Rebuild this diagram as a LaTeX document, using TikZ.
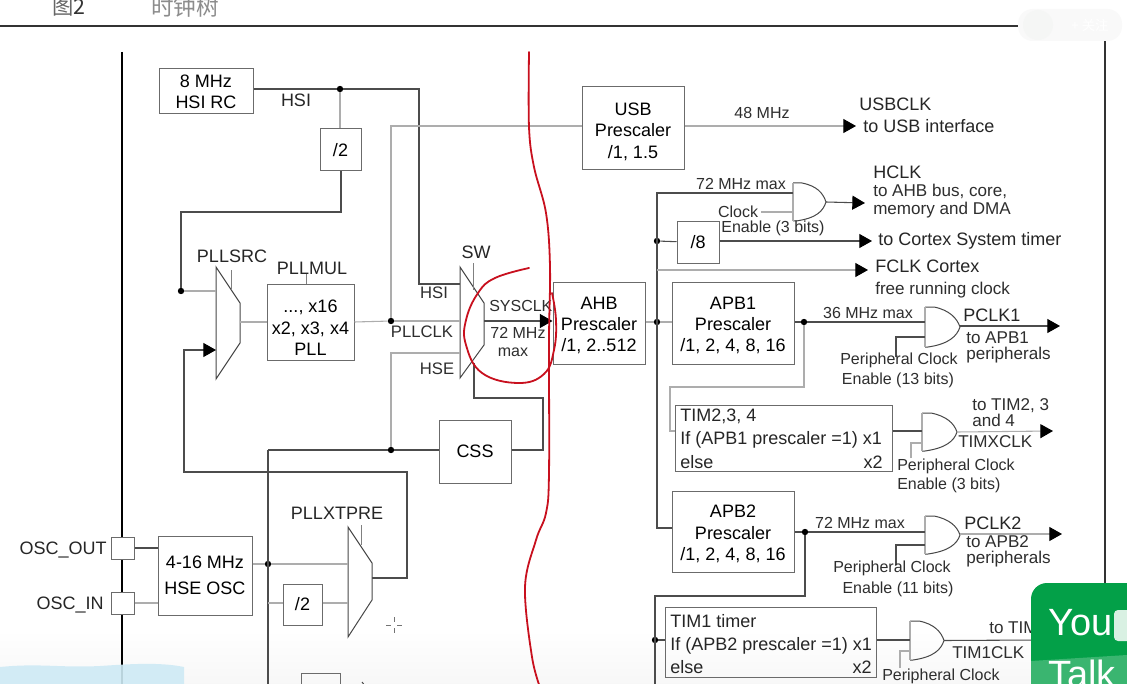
\documentclass[tikz,border=0pt]{standalone}
\usepackage{fontspec}
\setmainfont{Liberation Sans}
\newfontfamily\cjkf{Noto Sans CJK SC}
\usetikzlibrary{arrows.meta,calc}
\definecolor{dk}{gray}{0.3}
\definecolor{lt}{gray}{0.68}
\definecolor{redpen}{RGB}{200,16,30}
\definecolor{wegreen}{RGB}{3,160,72}
\definecolor{bluewash}{RGB}{206,234,245}
\tikzset{
  dkline/.style={draw=dk,line width=0.8pt},
  ltline/.style={draw=lt,line width=0.8pt},
  tip/.style={-{Triangle[length=9.5pt,width=10.5pt,black]}},
  boxn/.style={draw=black!58,line width=0.75pt,inner sep=0pt,align=center,font=\fontsize{13.5}{16}\selectfont},
  lab/.style={inner sep=0pt,text=black!85,font=\fontsize{13.5}{15.75}\selectfont},
  sm/.style={inner sep=0pt,text=black!82,font=\fontsize{12}{14}\selectfont},
  smb/.style={sm,font=\fontsize{12.8}{14}\selectfont},
  lw/.style={anchor=mid west,yshift=-2.2pt},
  le/.style={anchor=mid east,yshift=-2.2pt},
  dotn/.style={circle,fill=black,inner sep=0pt,minimum size=4.8pt},
  outline/.style={draw=black!72,line width=0.75pt},
  tick/.style={draw=black!50,line width=0.7pt},
  redink/.style={draw=redpen,line width=1.35pt,line cap=round,line join=round}
}
\newcommand{\bx}[6][]{\node[boxn,#1,minimum width={(#4-#2)*0.75pt},minimum height={(#5-#3)*0.75pt}] (#6) at ({(#2+#4)/2},{(#3+#5)/2})}
% name, x1, y1, x2, y2
\newcommand{\gate}[5]{%
  \draw[outline] (#2,#3) -- ({#2+9},#3) .. controls ({#2+24},{#3+3}) and ({#4-3},{(#3+#5)/2-9}) .. (#4,{(#3+#5)/2})
     .. controls ({#4-3},{(#3+#5)/2+9}) and ({#2+24},{#5-3}) .. ({#2+3},#5) -- (#2,#5);
  \draw[ltline] (#2,#3) -- (#2,#5);
  \coordinate (#1out) at (#4,{(#3+#5)/2});
  \coordinate (#1in) at (#2,{(#3+#5)/2});
}
\begin{document}
\begin{tikzpicture}[x=0.75pt,y=-0.75pt]
\useasboundingbox (0,0) rectangle (1127,684);
\clip (0,0) rectangle (1127,684);
\fill[white] (0,0) rectangle (1127,684);
\shade[top color=white,bottom color=black!3] (0,630) rectangle (1127,684);
% heading
\node[inner sep=0pt,anchor=mid west,text=black!60,font=\cjkf\fontsize{16}{16}\selectfont] (figno) at (52,11) {图\textcolor{black!80}{2}};
\node[inner sep=0pt,anchor=mid west,text=black!45,font=\cjkf\fontsize{17}{17}\selectfont] (figtitle) at (151,12) {时钟树};
% frame
\draw[line width=0.9pt,draw=black!80] (0,26) -- (1105,26) -- (1105,600);
\fill[black!2.5,rounded corners=11pt] (1018,9) rectangle (1122,41);
\fill[green!8!black!4] (1038,25) circle[radius=15];
\node[inner sep=0pt,text=white,font=\cjkf\fontsize{10}{10}\selectfont] (follow) at (1090,25) {+ 关注};
% chip edge
\draw[black,line width=1.7pt] (122,52) -- (122,684);

% boxes
\bx{159}{69}{253}{114}{hsirc} {8 MHz\\HSI RC};
\bx{320}{129}{361}{171}{divhsi} {/2};
\bx{267}{284}{354}{360}{pll} {\rule{0pt}{18pt}..., x16\\x2, x3, x4\\PLL};
\bx{582}{87}{684}{170}{usb} {\rule{0pt}{14pt}USB\\Prescaler\\/1, 1.5};
\bx{553}{282}{645}{364}{ahb} {\rule{0pt}{13pt}AHB\\Prescaler\\/1, 2..512};
\bx{672}{282}{794}{364}{apbone} {\rule{0pt}{13pt}APB1\\Prescaler\\/1, 2, 4, 8, 16};
\bx{672}{491}{794}{572}{apbtwo} {\rule{0pt}{13pt}APB2\\Prescaler\\/1, 2, 4, 8, 16};
\bx{677}{222}{719}{263}{diveight} {/8};
\bx{439}{420}{511}{483}{css} {CSS};
\bx{158}{536}{252}{615}{hse} {4-16 MHz\\[3.5pt]HSE OSC};
\bx{283}{584}{322}{625}{divhse} {/2};
\bx{111}{537}{134}{559}{oscout} {};
\bx{111}{592}{134}{614}{oscin} {};
\bx{675}{405}{892}{471}{timtwo} {};
\bx{665}{607}{876}{677}{timone} {};
\bx{301}{673}{340}{715}{lowbox} {};
\fill[white] (111.5,537.5) rectangle (133.5,558.5);
\fill[white] (111.5,592.5) rectangle (133.5,613.5);

% muxes
\draw[outline] (216,267) -- (240,303) -- (240,343) -- (216,379) -- cycle;
\draw[outline] (460,267) -- (484,303) -- (484,345) -- (460,378) -- cycle;
\draw[outline] (348,527) -- (372,563) -- (372,600) -- (348,637) -- cycle;
\draw[outline] (362,682) -- (368,690);
\coordinate (srcout) at (240,322);
\coordinate (srchi) at (216,291);
\coordinate (srclo) at (216,350);
\coordinate (swhi) at (460,284);
\coordinate (swmid) at (460,321);
\coordinate (swhe) at (460,353);
\coordinate (swout) at (484,321);
\coordinate (xtout) at (372,578);
\coordinate (xthi) at (348,564);
\coordinate (xtlo) at (348,603);
\draw[tick] (231,270) -- (231,290);
\draw[tick] (473,263) -- (473,290);
\draw[tick] (361,525) -- (361,545);
\draw[tick] (306,274) -- (pll.north -| 306,0);

% gates
\gate{ghclk}{793}{183}{826}{221}
\gate{gapbone}{925}{307}{960}{347}
\gate{gtimtwo}{922}{413}{957}{451}
\gate{gapbtwo}{925}{516}{960}{554}
\gate{gtimone}{910}{621}{944}{660}

% junctions
\node[dotn] (jhsi) at (340,89) {};
\node[dotn] (jpllclk) at (391,321) {};
\node[dotn] (jsrc) at (181,291) {};
\node[dotn] (jcss) at (391,450) {};
\node[dotn] (jhse) at (268,564) {};
\node[dotn] (jahb) at (657,322) {};
\node[dotn] (jdiv) at (657,241) {};
\node[dotn] (japbone) at (804,322) {};
\node[dotn] (japbtwo) at (805,532) {};
\node[dotn] (jtim) at (655,640) {};

% free ends
\coordinate (usbend) at (856,126);
\coordinate (hclkend) at (865,203);
\coordinate (cortexend) at (872,241);
\coordinate (fclkend) at (868,270);
\coordinate (pcloneend) at (1060,326);
\coordinate (timxend) at (1053,431);
\coordinate (pcltwoend) at (1062,534);
\coordinate (timoneend) at (1040,640);
\coordinate (bot) at (268,690);
\coordinate (bottim) at (655,690);

% left half connectors
\draw[dkline] (hsirc.east |- jhsi) -- (jhsi);
\draw[dkline] (jhsi) -- (419,89) -- (419,284) -- (swhi);
\draw[ltline] (jhsi) -- (divhsi.north -| jhsi);
\draw[dkline] (divhsi.south -| 341,0) -- (341,212) -- (181,212) -- (jsrc);
\draw[ltline] (jsrc) -- (srchi);
\draw[ltline] (jpllclk) -- (391,126) -- (usb.west |- usbend);
\draw[ltline] (srcout) -- (pll.west |- srcout);
\draw[ltline] (pll.east |- srcout) -- (jpllclk);
\draw[ltline] (jpllclk) -- (swmid);
\draw[ltline] (jcss) -- (391,353) -- (swhe);
\draw[dkline] (jhse |- jcss) -- (jcss);
\draw[dkline] (jcss) -- (css.west |- jcss);
\draw[dkline] (268,450) -- (bot);
\draw[dkline] (css.east |- jcss) -- (543,450) -- (543,398) -- (474,398) -- (474,363);
\draw[dkline,tip] (xtout) -- (407,578) -- (407,472) -- (184,472) -- (184,350) -- (srclo);
\draw[dkline] (oscout) -- (hse.west |- oscout);
\draw[ltline] (oscin) -- (hse.west |- oscin);
\draw[ltline] (hse.east |- jhse) -- (jhse);
\draw[ltline] (jhse) -- (xthi);
\draw[ltline] (268,603) -- (divhse.west |- xtlo);
\draw[ltline] (divhse.east |- xtlo) -- (xtlo);
\draw[tip,dkline] (swout) -- (ahb.west |- swout);

% right half connectors
\draw[ltline,tip] (usb.east |- usbend) -- (usbend);
\draw[ltline] (ahb.east |- jahb) -- (jahb);
\draw[ltline] (jahb) -- (apbone.west |- jahb);
\draw[dkline] (ghclkin |- 0,193) -- (657,193) -- (657,528) -- (apbtwo.west |- 0,528);
\draw[dkline,tip] (ghclkout) -- (hclkend);
\draw[ltline] (ghclkin |- 0,212) -- (761,212);
\draw[dkline] (jdiv) -- (diveight);
\draw[dkline,tip] (diveight.east |- cortexend) -- (cortexend);
\draw[ltline,tip] (657,270) -- (fclkend);
\draw[dkline] (apbone.east |- japbone) -- (japbone);
\draw[dkline] (japbone) -- (gapbonein |- japbone);
\draw[dkline,tip] (gapboneout |- pcloneend) -- (pcloneend);
\draw[ltline] (japbone) -- (804,387) -- (670,387) -- (670,431) -- (timtwo.west |- 0,431);
\draw[dkline] (timtwo.east |- timxend) -- (gtimtwoin |- timxend);
\draw[ltline,tip] (gtimtwoout) -- (timxend);
\draw[dkline] (apbtwo.east |- japbtwo) -- (japbtwo);
\draw[dkline] (japbtwo) -- (gapbtwoin |- japbtwo);
\draw[ltline,tip] (gapbtwoout |- pcltwoend) -- (pcltwoend);
\draw[dkline] (japbtwo) -- (805,596) -- (655,596) -- (bottim);
\draw[dkline] (jtim) -- (timone.west |- jtim);
\draw[dkline] (timone.east |- jtim) -- (gtimonein |- jtim);
\draw[dkline] (gtimoneout) -- (timoneend);
% enable stubs
\draw[dkline] (896,357) -- (896,337) -- (gapbonein |- 0,337);
\draw[ltline] (911,458) -- (911,443) -- (gtimtwoin |- 0,443);
\draw[dkline] (896,565) -- (896,545) -- (gapbtwoin |- 0,545);
\draw[ltline] (900,668) -- (900,651) -- (gtimonein |- 0,651);
% cursor mark
\draw[black!55,line width=0.5pt] (386,625) -- (391,625) (397,625) -- (402,625) (394,617) -- (394,622) (394,628) -- (394,633);

% labels
\node[lab] (lhsi) at (296,100) {HSI};
\node[lab] (lpllsrc) at (232,256) {PLLSRC};
\node[lab] (lpllmul) at (312,268) {PLLMUL};
\node[lab] (lsw) at (476,252) {SW};
\node[sm,font=\fontsize{12.5}{14}\selectfont] (lhsitwo) at (434,293) {HSI};
\node[sm,font=\fontsize{12.5}{14}\selectfont] (lpllclk) at (422,332) {PLLCLK};
\node[sm,font=\fontsize{12.5}{14}\selectfont] (lhse) at (437,369) {HSE};
\node[sm,lw] (lsysclk) at (489,305) {SYSCLK};
\node[sm] (lmhz) at (518,333) {72 MHz};
\node[sm] (lmax) at (513,352) {max};
\node[lab] (lxtpre) at (337,513) {PLLXTPRE};
\node[lab,le] (losco) at (107,548) {OSC\_OUT};
\node[lab,le] (losci) at (104,603) {OSC\_IN};
\node[sm] (l48) at (762,113) {48 MHz};
\node[lab,lw] (lusbclk) at (859,104) {USBCLK};
\node[lab,lw] (lusbif) at (863,126) {to USB interface};
\node[sm] (l72a) at (741,184) {72 MHz max};
\node[lab,lw] (lhclk) at (873,172) {HCLK};
\node[smb,lw] (lahb) at (873,190) {to AHB bus, core,};
\node[smb,lw] (lmem) at (873,208) {memory and DMA};
\node[sm] (lclock) at (738,212) {Clock};
\node[sm] (lenable) at (773,228) {Enable (3 bits)};
\node[lab,lw] (lcortex) at (878,239) {to Cortex System timer};
\node[lab,lw] (lfclk) at (875,266) {FCLK Cortex};
\node[smb,lw] (lfree) at (875,288) {free running clock};
\node[sm] (l36) at (868,313) {36 MHz max};
\node[lab,lw] (lpcone) at (963,315) {PCLK1};
\node[smb,lw] (lapbone) at (966,337) {to APB1};
\node[smb,lw] (lperone) at (966,353) {peripherals};
\node[sm] (lpcka) at (899,360) {Peripheral Clock};
\node[sm] (lena) at (898,380) {Enable (13 bits)};
\node[lab,lw] (ltimhdr) at (680,415) {TIM2,3, 4};
\node[lab,lw] (ltimif) at (680,438) {If (APB1 prescaler =1) x1};
\node[lab,lw] (ltimelse) at (680,462) {else};
\node[lab,le] (ltimx) at (883,462) {x2};
\node[smb,lw] (lto) at (972,404) {to TIM2, 3};
\node[smb,lw] (land) at (972,420) {and 4};
\node[smb,lw] (ltimxclk) at (958,441) {TIMXCLK};
\node[sm] (lpckb) at (956,466) {Peripheral Clock};
\node[sm,lw] (lenb) at (897,483) {Enable (3 bits)};
\node[sm] (l72b) at (860,523) {72 MHz max};
\node[lab,lw] (lpctwo) at (964,523) {PCLK2};
\node[smb,lw] (lapbtwo) at (966,541) {to APB2};
\node[smb,lw] (lpertwo) at (966,557) {peripherals};
\node[sm] (lpckc) at (892,568) {Peripheral Clock};
\node[sm] (lenc) at (898,589) {Enable (11 bits)};
\node[lab,lw] (ltonehdr) at (670,621) {TIM1 timer};
\node[lab,lw] (ltoneif) at (670,644) {If (APB2 prescaler =1) x1};
\node[lab,lw] (ltoneelse) at (670,667) {else};
\node[lab,le] (ltonex) at (872,667) {x2};
\node[smb,lw] (ltoto) at (989,627) {to TIM1};
\node[smb,lw] (ltoclk) at (952,652) {TIM1CLK};
\node[sm,lw] (lpckd) at (882,674) {Peripheral Clock};

% overlays: pen strokes
\draw[redink] plot[smooth,tension=0.6] coordinates {(529,52) (529,127) (534,167) (546,213) (550,267) (549,340) (549,473) (546,513) (536,540) (525,587) (532,657) (541,690)};
\draw[redink] plot[smooth,tension=0.7] coordinates {(529,268) (495,278) (478,293) (466,320) (466,345) (482,373) (518,383) (544,374) (554,350) (556,320) (552,293)};
\fill[bluewash,opacity=0.9] (0,667) .. controls (40,663) and (60,668) .. (100,666) .. controls (130,664) and (160,662) .. (184,667) -- (184,684) -- (0,684) -- cycle;
% video overlay
\fill[wegreen,rounded corners=12pt] (1031,583) rectangle (1150,720);
\fill[white!22!wegreen] (1031,661) -- (1127,655) -- (1127,684) -- (1031,684) -- cycle;
\fill[white!85!wegreen,rounded corners=3pt] (1114,610) rectangle (1135,641);
\node[inner sep=0pt,anchor=mid west,text=white,font=\fontsize{28.5}{30}\selectfont] (lyou) at (1048,632) {You};
\node[inner sep=0pt,anchor=mid west,text=white,font=\fontsize{28.5}{30}\selectfont] (ltalk) at (1048,684) {Talk};
\end{tikzpicture}
\end{document}
